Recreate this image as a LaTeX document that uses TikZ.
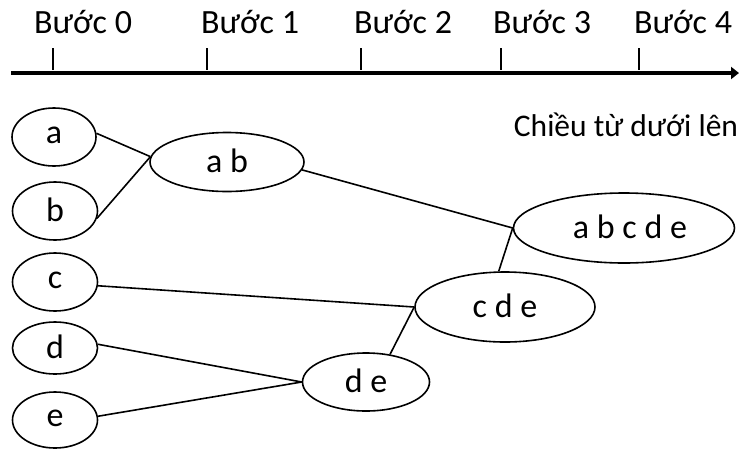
\documentclass[tikz,border=0pt]{standalone}
\usepackage{fontspec}
\setmainfont{Carlito}
\usetikzlibrary{shapes.geometric,arrows.meta}
\begin{document}
\begin{tikzpicture}[x=1pt,y=-1pt,
  bubble/.style={draw,ellipse,line width=1.6pt,inner sep=0pt,font=\fontsize{34}{38}\selectfont},
  steplabel/.style={anchor=base,inner sep=0pt,font=\fontsize{34}{40}\selectfont},
  tickline/.style={line width=1.4pt},
  link/.style={line width=1.6pt}]
\useasboundingbox (0,0) rectangle (739,448);
% timeline
\coordinate (ax0) at (11,73);
\coordinate (ax1) at (739,73);
\draw[line width=4pt,-{Triangle[length=8pt,width=12pt]}] (ax0) -- (ax1);
\foreach \i/\tx/\lx in {0/53/83,1/207/250,2/361/403,3/501/542,4/639/683}{
  \coordinate (t\i a) at (\tx,48);
  \coordinate (t\i b) at (\tx,70);
  \draw[tickline] (t\i a) -- (t\i b);
  \node[steplabel] (lab\i) at (\lx,33) {Bước \i};
}
\node[anchor=base,inner sep=0pt,font=\fontsize{31.5}{38}\selectfont] (dir) at (626,136) {Chiều từ dưới lên};
% nodes
\node[bubble,minimum width=84pt,minimum height=58pt] (a) at (54,137) {\raisebox{3pt}{a}};
\node[bubble,minimum width=85pt,minimum height=58pt] (b) at (55,211) {\raisebox{3pt}{b}};
\node[bubble,minimum width=85pt,minimum height=58pt] (c) at (55,282) {\raisebox{3pt}{c}};
\node[bubble,minimum width=85pt,minimum height=52pt] (d) at (55,348) {\raisebox{3pt}{d}};
\node[bubble,minimum width=85pt,minimum height=56pt] (e) at (55,420) {\raisebox{3pt}{e}};
\node[bubble,minimum width=154pt,minimum height=59pt] (ab) at (227,162) {\raisebox{3pt}{a b}};
\node[bubble,minimum width=127pt,minimum height=58pt] (de) at (366,382) {\raisebox{3pt}{d e}};
\node[bubble,minimum width=180pt,minimum height=70pt] (cde) at (505,307) {\raisebox{3pt}{c d e}};
\node[bubble,minimum width=221pt,minimum height=70pt] (abcde) at (624,228) {\hspace*{12pt}\raisebox{3pt}{a b c d e}};
% connectors
\draw[link] (a.5) -- (ab.176);
\draw[link] (b.-10) -- (ab.176);
\draw[link] (ab.-6) -- (abcde.west);
\draw[link] (abcde.west) -- (cde.100);
\draw[link] (c.-5) -- (cde.west);
\draw[link] (cde.west) -- (de.49);
\draw[link] (d.5) -- (de.west);
\draw[link] (e.5) -- (de.west);
\end{tikzpicture}
\end{document}
